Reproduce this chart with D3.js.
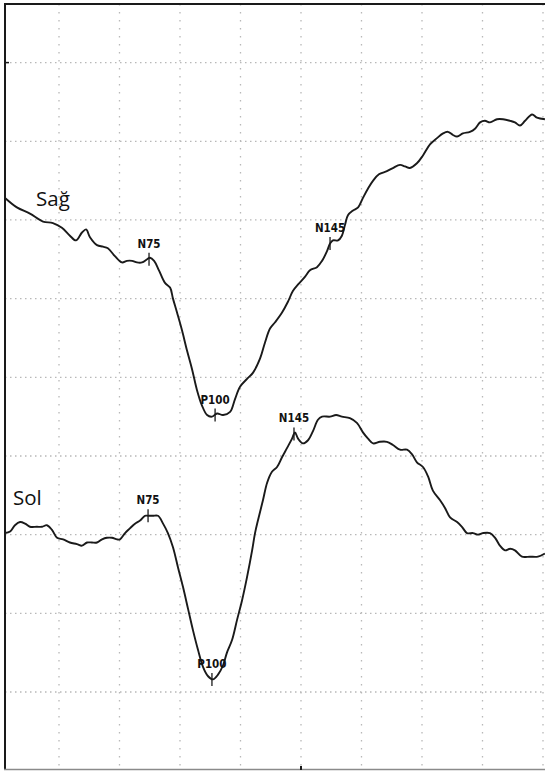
<!DOCTYPE html>
<html>
<head>
<meta charset="utf-8">
<script src="https://cdn.jsdelivr.net/npm/d3@7"></script>
<style>
  body { margin: 0; background: #fff; }
  svg { display: block; }
</style>
</head>
<body>
<div id="chart"></div>
<script>
const w = 545;
const h = 771;

// latency (ms), amplitude (µV)
const sagTrace = [
  [2.7,31.4],[7.6,30.8],[13.0,30.4],[18.4,29.9],[22.5,29.8],[26.2,29.5],[29.5,29.0],[32.0,28.7],
  [34.5,29.2],[36.2,29.4],[37.8,28.9],[40.7,28.4],[43.2,28.3],[45.2,28.2],[48.1,27.7],[51.0,27.3],
  [53.1,27.4],[55.2,27.4],[57.2,27.3],[59.3,27.3],[61.4,27.5],[62.6,27.6],[64.3,27.4],[66.3,26.8],
  [68.8,26.0],[70.9,25.7],[72.1,25.0],[73.8,24.1],[75.8,23.0],[77.9,21.7],[80.0,20.5],[82.0,19.2],
  [84.1,18.2],[86.2,17.6],[88.2,17.5],[90.3,17.7],[92.8,17.6],[95.7,17.8],[97.7,18.6],[99.8,19.4],
  [102.7,19.9],[105.2,20.3],[108.1,21.2],[110.1,22.2],[112.2,23.1],[114.3,23.5],[117.1,24.1],[119.6,24.8],
  [121.7,25.5],[123.8,25.9],[126.7,26.4],[128.7,26.8],[131.6,27.0],[133.7,27.4],[135.7,28.0],[137.0,28.5],
  [138.2,28.7],[140.3,28.7],[141.9,29.0],[143.2,29.7],[144.4,30.3],[146.5,30.6],[148.6,30.8],[150.6,31.4],
  [152.7,32.0],[154.8,32.5],[157.2,32.9],[160.5,33.1],[163.0,33.3],[165.9,33.5],[168.0,33.4],[170.0,33.3],
  [172.9,33.6],[175.4,34.1],[178.3,34.8],[181.2,35.2],[183.7,35.5],[185.7,35.6],[187.8,35.4],[189.5,35.3],
  [191.9,35.5],[194.8,35.6],[196.9,35.8],[199.0,36.2],[201.0,36.3],[203.1,36.2],[206.0,36.4],[208.5,36.4],
  [211.4,36.3],[213.4,36.2],[215.5,36.0],[217.6,36.3],[220.5,36.7],[222.5,36.5],[225.8,36.4]
];

const solTrace = [
  [2.7,10.1],[4.8,10.2],[6.8,10.6],[8.9,10.8],[11.0,10.7],[13.0,10.5],[15.9,10.5],[18.0,10.5],
  [20.0,10.6],[22.1,10.3],[24.2,9.8],[26.7,9.7],[29.5,9.5],[32.4,9.4],[34.5,9.3],[36.6,9.5],
  [38.6,9.5],[40.7,9.5],[42.8,9.7],[44.8,9.8],[46.9,9.8],[49.0,9.7],[50.2,9.7],[52.3,10.1],
  [54.3,10.4],[56.4,10.7],[58.5,10.9],[60.5,11.2],[61.8,11.2],[63.8,11.2],[65.9,11.2],[68.0,10.7],
  [70.0,10.1],[72.1,9.2],[74.2,7.9],[76.2,6.7],[78.3,5.3],[80.4,3.9],[82.4,2.7],[84.5,1.6],
  [86.6,1.0],[88.6,0.8],[90.7,1.1],[92.8,1.7],[94.4,2.5],[96.5,3.3],[98.6,4.6],[100.6,5.8],
  [102.7,7.3],[104.8,9.0],[106.0,10.1],[107.2,10.9],[109.3,12.2],[111.0,13.3],[113.0,14.0],[115.1,14.3],
  [117.1,14.9],[119.2,15.5],[121.3,16.1],[122.5,16.5],[123.8,16.1],[125.8,15.8],[127.9,16.0],[130.0,16.6],
  [132.0,17.3],[133.7,17.5],[137.0,17.5],[139.5,17.6],[141.9,17.5],[145.2,17.4],[148.1,17.1],[150.6,16.5],
  [152.7,16.1],[154.8,15.8],[157.6,15.9],[160.5,15.9],[163.0,15.7],[165.9,15.4],[168.8,15.4],[170.9,15.1],
  [172.9,14.6],[175.4,14.3],[177.5,13.7],[179.5,12.8],[182.4,12.2],[184.5,11.7],[186.6,11.1],[189.5,10.8],
  [191.5,10.5],[193.6,10.1],[196.1,10.1],[198.1,10.0],[200.2,10.1],[203.1,10.1],[205.2,9.8],[207.2,9.3],
  [209.3,9.0],[211.4,9.1],[213.4,9.0],[216.3,8.6],[219.6,8.6],[222.9,8.6],[225.8,8.8]
];

const peakNames = ["N75", "P100", "N145"];
const sagPeaks = [[62.2, 27.5], [89.5, 17.6], [137.0, 28.5]];
const solPeaks = [[61.8, 11.2], [88.2, 0.8], [122.1, 16.4]];

const traceNames = ["Sağ", "Sol"];
const traceLabelPos = [[15.5, 30.9], [6.0, 11.9]];

const timeTicks = [25, 50, 75, 100, 125, 150, 175, 200, 225];
const ampTicks = [0, 5, 10, 15, 20, 25, 30, 35, 40];

const x = d3.scaleLinear().domain([0, 250]).range([-1.5, 603.5]);
const y = d3.scaleLinear().domain([0, 40]).range([692, 62.6]);

const svg = d3.select("#chart")
  .append("svg")
  .attr("width", w)
  .attr("height", h);

svg.append("rect").attr("width", w).attr("height", h).attr("fill", "#fff");

svg.append("clipPath").attr("id", "frame")
  .append("rect").attr("x", 5).attr("y", 4).attr("width", w - 5).attr("height", 765);

const plot = svg.append("g").attr("clip-path", "url(#frame)");

// dotted grid
plot.selectAll(".hgrid")
  .data(ampTicks)
  .join("line")
  .attr("x1", 5).attr("x2", w)
  .attr("y1", d => y(d)).attr("y2", d => y(d))
  .attr("stroke", "#b8b8b8")
  .attr("stroke-width", 1.3)
  .attr("stroke-dasharray", "1.5 3.5");

plot.selectAll(".vgrid")
  .data(timeTicks)
  .join("line")
  .attr("x1", d => x(d)).attr("x2", d => x(d))
  .attr("y1", 4).attr("y2", 769)
  .attr("stroke", "#b8b8b8")
  .attr("stroke-width", 1.3)
  .attr("stroke-dasharray", "1.5 6.5");

const line = d3.line()
  .x(d => x(d[0]))
  .y(d => y(d[1]))
  .curve(d3.curveCatmullRom);

[sagTrace, solTrace].forEach(tr => {
  plot.append("path")
    .attr("d", line(tr))
    .attr("fill", "none")
    .attr("stroke", "#1a1a1a")
    .attr("stroke-width", 1.9)
    .attr("stroke-linejoin", "round");
});

// peak markers
[sagPeaks, solPeaks].forEach(pk => {
  const g = plot.append("g");
  g.selectAll("line")
    .data(pk)
    .join("line")
    .attr("x1", d => x(d[0])).attr("x2", d => x(d[0]))
    .attr("y1", d => y(d[1]) - 6.5).attr("y2", d => y(d[1]) + 6.5)
    .attr("stroke", "#1a1a1a")
    .attr("stroke-width", 1.3);
  g.selectAll("text")
    .data(pk)
    .join("text")
    .attr("x", d => x(d[0]))
    .attr("y", d => y(d[1]) - 11.5)
    .attr("text-anchor", "middle")
    .attr("font-family", "'DejaVu Sans Condensed', 'DejaVu Sans', sans-serif")
    .attr("font-stretch", "condensed")
    .attr("font-weight", "bold")
    .attr("font-size", 11.5)
    .attr("fill", "#111")
    .text((d, i) => peakNames[i]);
});

svg.selectAll(".trace-label")
  .data(traceNames)
  .join("text")
  .attr("x", (d, i) => x(traceLabelPos[i][0]))
  .attr("y", (d, i) => y(traceLabelPos[i][1]))
  .attr("font-family", "'Open Sans', 'Noto Sans', sans-serif")
  .attr("font-size", 20.5)
  .attr("fill", "#111")
  .text(d => d);

// frame
svg.append("line").attr("x1", 5).attr("x2", 5).attr("y1", 3).attr("y2", 770)
  .attr("stroke", "#1a1a1a").attr("stroke-width", 2);
svg.append("line").attr("x1", 4).attr("x2", w).attr("y1", 4).attr("y2", 4)
  .attr("stroke", "#1a1a1a").attr("stroke-width", 2);
svg.append("line").attr("x1", 4).attr("x2", w).attr("y1", 769.5).attr("y2", 769.5)
  .attr("stroke", "#8a8a8a").attr("stroke-width", 1.5);
svg.append("line").attr("x1", 5).attr("x2", 9).attr("y1", y(40)).attr("y2", y(40))
  .attr("stroke", "#1a1a1a").attr("stroke-width", 1.5);
svg.append("line").attr("x1", x(125)).attr("x2", x(125)).attr("y1", 766).attr("y2", 770)
  .attr("stroke", "#1a1a1a").attr("stroke-width", 2);
</script>
</body>
</html>
